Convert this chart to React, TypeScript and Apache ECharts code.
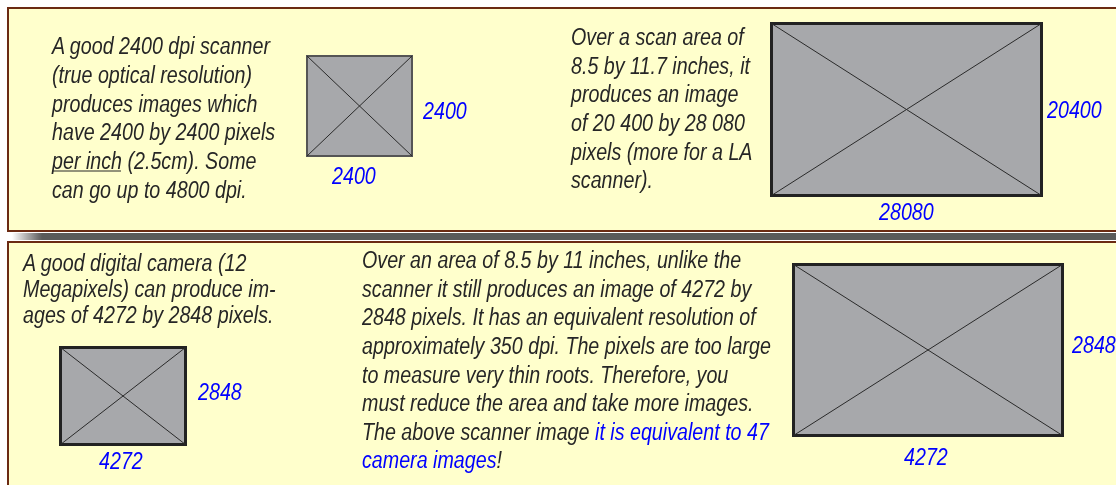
import React, { useEffect, useRef } from "react";
import * as echarts from "echarts";

const scannerText = [
  "A good 2400 dpi scanner",
  "(true optical resolution)",
  "produces images which",
  "have 2400 by 2400 pixels",
  "{u|per inch} (2.5cm). Some",
  "can go up to 4800 dpi.",
];
const scanAreaText = [
  "Over a scan area of",
  "8.5 by 11.7 inches, it",
  "produces an image",
  "of 20 400 by 28 080",
  "pixels (more for a LA",
  "scanner).",
];
const cameraText = [
  "A good digital camera (12",
  "Megapixels) can produce im-",
  "ages of 4272 by 2848 pixels.",
];
const cameraAreaText = [
  "Over an area of 8.5 by 11 inches, unlike the",
  "scanner it still produces an image of 4272 by",
  "2848 pixels. It has an equivalent resolution of",
  "approximately 350 dpi. The pixels are too large",
  "to measure very thin roots. Therefore, you",
  "must reduce the area and take more images.",
  "The above scanner image {b|it is equivalent to 47}",
  "{b|camera images}!",
];
const scannerDims = ["2400", "2400"]; // height, width
const scanAreaDims = ["20400", "28080"];
const cameraDims = ["2848", "4272"];
const cameraAreaDims = ["2848", "4272"];

const FONT = "'Liberation Sans', Arial, sans-serif";
const NARROW = 0.82;
const TEXT_COLOR = "#262626";
const BLUE = "#0000ff";
const PANEL_FILL = "#ffffcc";
const PANEL_STROKE = "#6b2a12";
const IMG_FILL = "#a7a8ab";

function textLines(lines: string[], x: number, y0: number, step: number, size = 24) {
  return lines.map((t, i) => ({
    type: "text",
    x,
    y: y0 + i * step,
    scaleX: NARROW,
    style: {
      text: t,
      fill: TEXT_COLOR,
      font: `italic ${size}px ${FONT}`,
      verticalAlign: "middle",
      align: "left",
      rich: {
        b: { fill: BLUE, font: `italic ${size}px ${FONT}` },
        u: { fill: TEXT_COLOR, font: `italic ${size}px ${FONT}` },
      },
    },
  }));
}

function imageBox(x: number, y: number, w: number, h: number, lw: number, stroke: string) {
  return [
    {
      type: "rect",
      shape: { x, y, width: w, height: h },
      style: { fill: IMG_FILL, stroke, lineWidth: lw },
    },
    {
      type: "line",
      shape: { x1: x, y1: y, x2: x + w, y2: y + h },
      style: { stroke: "#2a2a2a", lineWidth: 1 },
    },
    {
      type: "line",
      shape: { x1: x + w, y1: y, x2: x, y2: y + h },
      style: { stroke: "#2a2a2a", lineWidth: 1 },
    },
  ];
}

function dimLabel(t: string, x: number, y: number, size = 24) {
  return {
    type: "text",
    x,
    y,
    scaleX: NARROW,
    style: {
      text: t,
      fill: BLUE,
      font: `italic ${size}px ${FONT}`,
      verticalAlign: "middle",
      align: "left",
    },
  };
}

export default function App() {
  const ref = useRef<HTMLDivElement>(null);
  useEffect(() => {
    if (!ref.current) return;
    const chart = echarts.init(ref.current, null, { renderer: "svg" });
    const elements: any[] = [
      { type: "rect", shape: { x: 0, y: 0, width: 1116, height: 485 }, style: { fill: "#ffffff" } },
      {
        type: "rect",
        shape: { x: 8, y: 8, width: 1200, height: 223 },
        style: { fill: PANEL_FILL, stroke: PANEL_STROKE, lineWidth: 2 },
      },
      {
        type: "rect",
        shape: { x: 12, y: 233, width: 30, height: 7 },
        style: {
          fill: new echarts.graphic.LinearGradient(0, 0, 1, 0, [
            { offset: 0, color: "rgba(90,90,90,0)" },
            { offset: 1, color: "rgba(90,90,90,1)" },
          ]),
        },
      },
      { type: "rect", shape: { x: 42, y: 233, width: 1080, height: 7 }, style: { fill: "#5a5a5a" } },
      {
        type: "rect",
        shape: { x: 8, y: 242, width: 1200, height: 300 },
        style: { fill: PANEL_FILL, stroke: PANEL_STROKE, lineWidth: 2 },
      },
      ...textLines(scannerText, 52, 46, 28.7),
      { type: "line", shape: { x1: 52, y1: 171, x2: 121, y2: 171 }, style: { stroke: TEXT_COLOR, lineWidth: 1 } },
      ...imageBox(307, 56, 105, 100, 2, "#555555"),
      dimLabel(scannerDims[0], 423, 111),
      dimLabel(scannerDims[1], 332, 175.5),
      ...textLines(scanAreaText, 571, 37, 28.6),
      ...imageBox(771.5, 23.5, 270, 172, 3, "#222222"),
      dimLabel(scanAreaDims[0], 1047, 110),
      dimLabel(scanAreaDims[1], 879, 212),
      ...textLines(cameraText, 23, 263, 26),
      ...imageBox(60.5, 347.5, 125, 97, 3, "#222222"),
      dimLabel(cameraDims[0], 198, 392),
      dimLabel(cameraDims[1], 99, 461),
      ...textLines(cameraAreaText, 362, 260, 28.6),
      ...imageBox(793.5, 264.5, 269, 171, 3, "#222222"),
      dimLabel(cameraAreaDims[0], 1072, 345),
      dimLabel(cameraAreaDims[1], 904, 457),
    ];
    chart.setOption({ animation: false, graphic: { elements } });
    return () => chart.dispose();
  }, []);
  return (
    <div
      ref={ref}
      style={{ position: "fixed", left: 0, top: 0, width: 1116, height: 485 }}
    />
  );
}
